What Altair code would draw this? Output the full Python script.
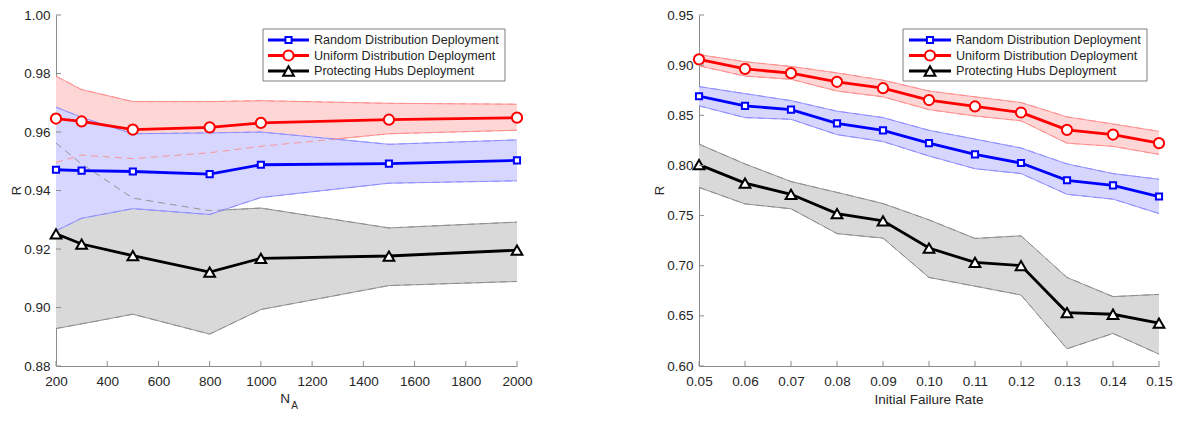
import altair as alt
import pandas as pd

# ---------------- data ----------------
SERIES_KEYS = ["rand", "unif", "hub"]
SERIES_LABELS = {
    "rand": "Random Distribution Deployment",
    "unif": "Uniform Distribution Deployment",
    "hub": "Protecting Hubs Deployment",
}

# Left panel: N_A
na_values = [200, 300, 500, 800, 1000, 1500, 2000]
l_rand_mean = [0.9471, 0.9468, 0.9465, 0.9456, 0.9488, 0.9492, 0.9503]
l_rand_hi = [0.9685, 0.9650, 0.9594, 0.9597, 0.9600, 0.9558, 0.9573]
l_rand_lo = [0.9262, 0.9305, 0.9338, 0.9318, 0.9376, 0.9425, 0.9433]
l_unif_mean = [0.9646, 0.9636, 0.9608, 0.9616, 0.9631, 0.9642, 0.9649]
l_unif_hi = [0.9791, 0.9745, 0.9704, 0.9704, 0.9707, 0.9698, 0.9695]
l_unif_lo = [0.9496, 0.9521, 0.9509, 0.9529, 0.9551, 0.9594, 0.9606]
l_hub_mean = [0.9252, 0.9217, 0.9177, 0.9121, 0.9168, 0.9176, 0.9196]
l_hub_hi = [0.9562, 0.9491, 0.9374, 0.9331, 0.9340, 0.9272, 0.9292]
l_hub_lo = [0.8928, 0.8944, 0.8977, 0.8909, 0.8993, 0.9075, 0.9089]

# Right panel: initial failure rate
fr_values = [0.05, 0.06, 0.07, 0.08, 0.09, 0.10, 0.11, 0.12, 0.13, 0.14, 0.15]
r_unif_mean = [0.9057, 0.8962, 0.8920, 0.8834, 0.8770, 0.8652, 0.8588, 0.8528, 0.8355, 0.8308, 0.8222]
r_unif_hi = [0.9105, 0.9034, 0.8987, 0.8923, 0.8850, 0.8742, 0.8684, 0.8627, 0.8484, 0.8413, 0.8340]
r_unif_lo = [0.8993, 0.8891, 0.8859, 0.8742, 0.8684, 0.8556, 0.8493, 0.8445, 0.8222, 0.8190, 0.8110]
r_rand_mean = [0.8690, 0.8594, 0.8556, 0.8419, 0.8349, 0.8222, 0.8110, 0.8024, 0.7852, 0.7801, 0.7690]
r_rand_hi = [0.8786, 0.8716, 0.8646, 0.8541, 0.8477, 0.8350, 0.8263, 0.8174, 0.8015, 0.7919, 0.7862]
r_rand_lo = [0.8594, 0.8477, 0.8460, 0.8307, 0.8238, 0.8094, 0.7967, 0.7919, 0.7712, 0.7664, 0.7520]
r_hub_mean = [0.8008, 0.7824, 0.7712, 0.7520, 0.7447, 0.7176, 0.7033, 0.7001, 0.6533, 0.6516, 0.6428]
r_hub_hi = [0.8212, 0.8015, 0.7839, 0.7731, 0.7620, 0.7457, 0.7272, 0.7298, 0.6883, 0.6692, 0.6714]
r_hub_lo = [0.7781, 0.7616, 0.7568, 0.7320, 0.7275, 0.6883, 0.6796, 0.6708, 0.6172, 0.6325, 0.6118]

left_xticks = [200, 400, 600, 800, 1000, 1200, 1400, 1600, 1800, 2000]
left_yticks = [0.88, 0.90, 0.92, 0.94, 0.96, 0.98, 1.00]
right_xticks = fr_values
right_yticks = [0.60, 0.65, 0.70, 0.75, 0.80, 0.85, 0.90, 0.95]

# ---------------- style ----------------
LINE = {"rand": "#0000ff", "unif": "#ff0000", "hub": "#000000"}
FILL = {"rand": "#d6d6ff", "unif": "#ffd6d6", "hub": "#d9d9d9"}
EDGE = {"rand": "#8c8cff", "unif": "#ff8c8c", "hub": "#8c8c8c"}
SHAPE = {"rand": "square", "unif": "circle", "hub": "triangle-up"}
SIZE = {"rand": 38, "unif": 104, "hub": 115}
FONT = "Liberation Sans"
AXIS_GRAY = "#8c8c8c"
TEXT_COLOR = "#262626"

W_L, W_R, H = 461, 460, 351
SPACING = 182


def one():
    return alt.Chart(pd.DataFrame({"a": [0]}))


def panel(xs, series, xdom, ydom, xticks, yticks, xfmt, W, legend_box, legend_line, legend_label_x, kind):
    rows = []
    for key in SERIES_KEYS:
        mean, lo, hi = series[key]
        for x, m, l, h in zip(xs, mean, lo, hi):
            rows.append({"x": x, "s": key, "mean": m, "lo": l, "hi": h})
    df = pd.DataFrame(rows)

    xsc = alt.Scale(domain=xdom, nice=False, zero=False)
    ysc = alt.Scale(domain=ydom, nice=False, zero=False)
    xax = alt.Axis(values=xticks, format=xfmt, title=None, labelFlush=False, labelOverlap=False)
    yax = alt.Axis(values=yticks, format=".2f", title=None, labelFlush=False, labelOverlap=False)

    def X(f="x"):
        return alt.X(f"{f}:Q", scale=xsc, axis=xax)

    def Y(f):
        return alt.Y(f"{f}:Q", scale=ysc, axis=yax)

    base = alt.Chart(df)
    layers = []
    # bands: gray, red, blue (blue on top)
    for key in ["hub", "unif", "rand"]:
        sub = base.transform_filter(alt.datum.s == key)
        layers.append(sub.mark_area(color=FILL[key], opacity=1).encode(x=X(), y=Y("lo"), y2="hi:Q"))
        for f in ["lo", "hi"]:
            layers.append(sub.mark_line(color=EDGE[key], strokeWidth=0.9).encode(x=X(), y=Y(f)))
    # dashed band edges visible through overlapping fills
    for key in ["hub", "unif", "rand"]:
        sub = base.transform_filter(alt.datum.s == key)
        for f in ["lo", "hi"]:
            layers.append(sub.mark_line(color=EDGE[key], strokeWidth=0.9, strokeDash=[7, 5]).encode(x=X(), y=Y(f)))
    # means + markers
    for key in ["hub", "rand", "unif"]:
        sub = base.transform_filter(alt.datum.s == key)
        layers.append(sub.mark_line(color=LINE[key], strokeWidth=2.8).encode(x=X(), y=Y("mean")))
        layers.append(sub.mark_point(filled=True, fill="white", stroke=LINE[key], strokeWidth=2,
                                     shape=SHAPE[key], size=SIZE[key], opacity=1).encode(x=X(), y=Y("mean")))

    # inward ticks
    xt = alt.Chart(pd.DataFrame({"v": xticks}))
    layers.append(xt.mark_rule(color=AXIS_GRAY, strokeWidth=1).encode(
        x=alt.X("v:Q", scale=xsc, axis=xax), y=alt.value(H), y2=alt.value(H - 5)))
    yt = alt.Chart(pd.DataFrame({"v": yticks}))
    layers.append(yt.mark_rule(color=AXIS_GRAY, strokeWidth=1).encode(
        y=alt.Y("v:Q", scale=ysc, axis=yax), x=alt.value(0), x2=alt.value(5)))

    # legend box
    bx1, by1, bx2, by2 = legend_box
    layers.append(one().mark_rect(fill="white", stroke="#7f7f7f", strokeWidth=1).encode(
        x=alt.value(bx1), x2=alt.value(bx2), y=alt.value(by1), y2=alt.value(by2)))
    lx1, lx2 = legend_line
    row_y = [by1 + 11, by1 + 26.5, by1 + 42]
    for key, ry in zip(SERIES_KEYS, row_y):
        layers.append(one().mark_rule(color=LINE[key], strokeWidth=2.8).encode(
            x=alt.value(lx1), x2=alt.value(lx2), y=alt.value(ry)))
        layers.append(one().mark_point(filled=True, fill="white", stroke=LINE[key], strokeWidth=2,
                                       shape=SHAPE[key], size=SIZE[key], opacity=1).encode(
            x=alt.value((lx1 + lx2) / 2), y=alt.value(ry)))
        layers.append(one().mark_text(font=FONT, fontSize=12.6, color=TEXT_COLOR, align="left",
                                      baseline="middle").encode(
            x=alt.value(legend_label_x), y=alt.value(ry), text=alt.value(SERIES_LABELS[key])))

    # axis titles
    layers.append(one().mark_text(font=FONT, fontSize=13, color=TEXT_COLOR, angle=270, align="center",
                                  baseline="middle").encode(
        x=alt.value(-39), y=alt.value(H / 2), text=alt.value("R")))
    if kind == "na":
        layers.append(one().mark_text(font=FONT, fontSize=13.5, color=TEXT_COLOR, align="center",
                                      baseline="alphabetic").encode(
            x=alt.value(229), y=alt.value(H + 37), text=alt.value("N")))
        layers.append(one().mark_text(font=FONT, fontSize=10, color=TEXT_COLOR, align="center",
                                      baseline="alphabetic").encode(
            x=alt.value(238.5), y=alt.value(H + 43), text=alt.value("A")))
    else:
        layers.append(one().mark_text(font=FONT, fontSize=13.5, color=TEXT_COLOR, align="center",
                                      baseline="alphabetic").encode(
            x=alt.value(W / 2), y=alt.value(H + 38), text=alt.value("Initial Failure Rate")))

    return alt.layer(*layers).properties(width=W, height=H)


left = panel(
    na_values,
    {"rand": (l_rand_mean, l_rand_lo, l_rand_hi),
     "unif": (l_unif_mean, l_unif_lo, l_unif_hi),
     "hub": (l_hub_mean, l_hub_lo, l_hub_hi)},
    [200, 2000], [0.88, 1.00], left_xticks, left_yticks, "d", W_L,
    (207, 14, 449, 66), (212, 253), 258, "na")

right = panel(
    fr_values,
    {"rand": (r_rand_mean, r_rand_lo, r_rand_hi),
     "unif": (r_unif_mean, r_unif_lo, r_unif_hi),
     "hub": (r_hub_mean, r_hub_lo, r_hub_hi)},
    [0.05, 0.15], [0.60, 0.95], right_xticks, right_yticks, ".2f", W_R,
    (204, 14, 448, 66), (210, 252), 257, "fr")

chart = alt.hconcat(left, right, spacing=SPACING, bounds="flush").properties(
    padding={"left": 3, "top": 0, "right": 0, "bottom": 0}
).configure_axis(
    domainColor=AXIS_GRAY, domainWidth=1, ticks=False, tickSize=0, grid=False,
    labelFont=FONT, labelFontSize=13.5, labelColor=TEXT_COLOR,
).configure_axisX(labelPadding=8).configure_axisY(labelPadding=6).configure_view(stroke=None)

chart.save("out.html", embed_options={"renderer": "svg", "actions": False})
